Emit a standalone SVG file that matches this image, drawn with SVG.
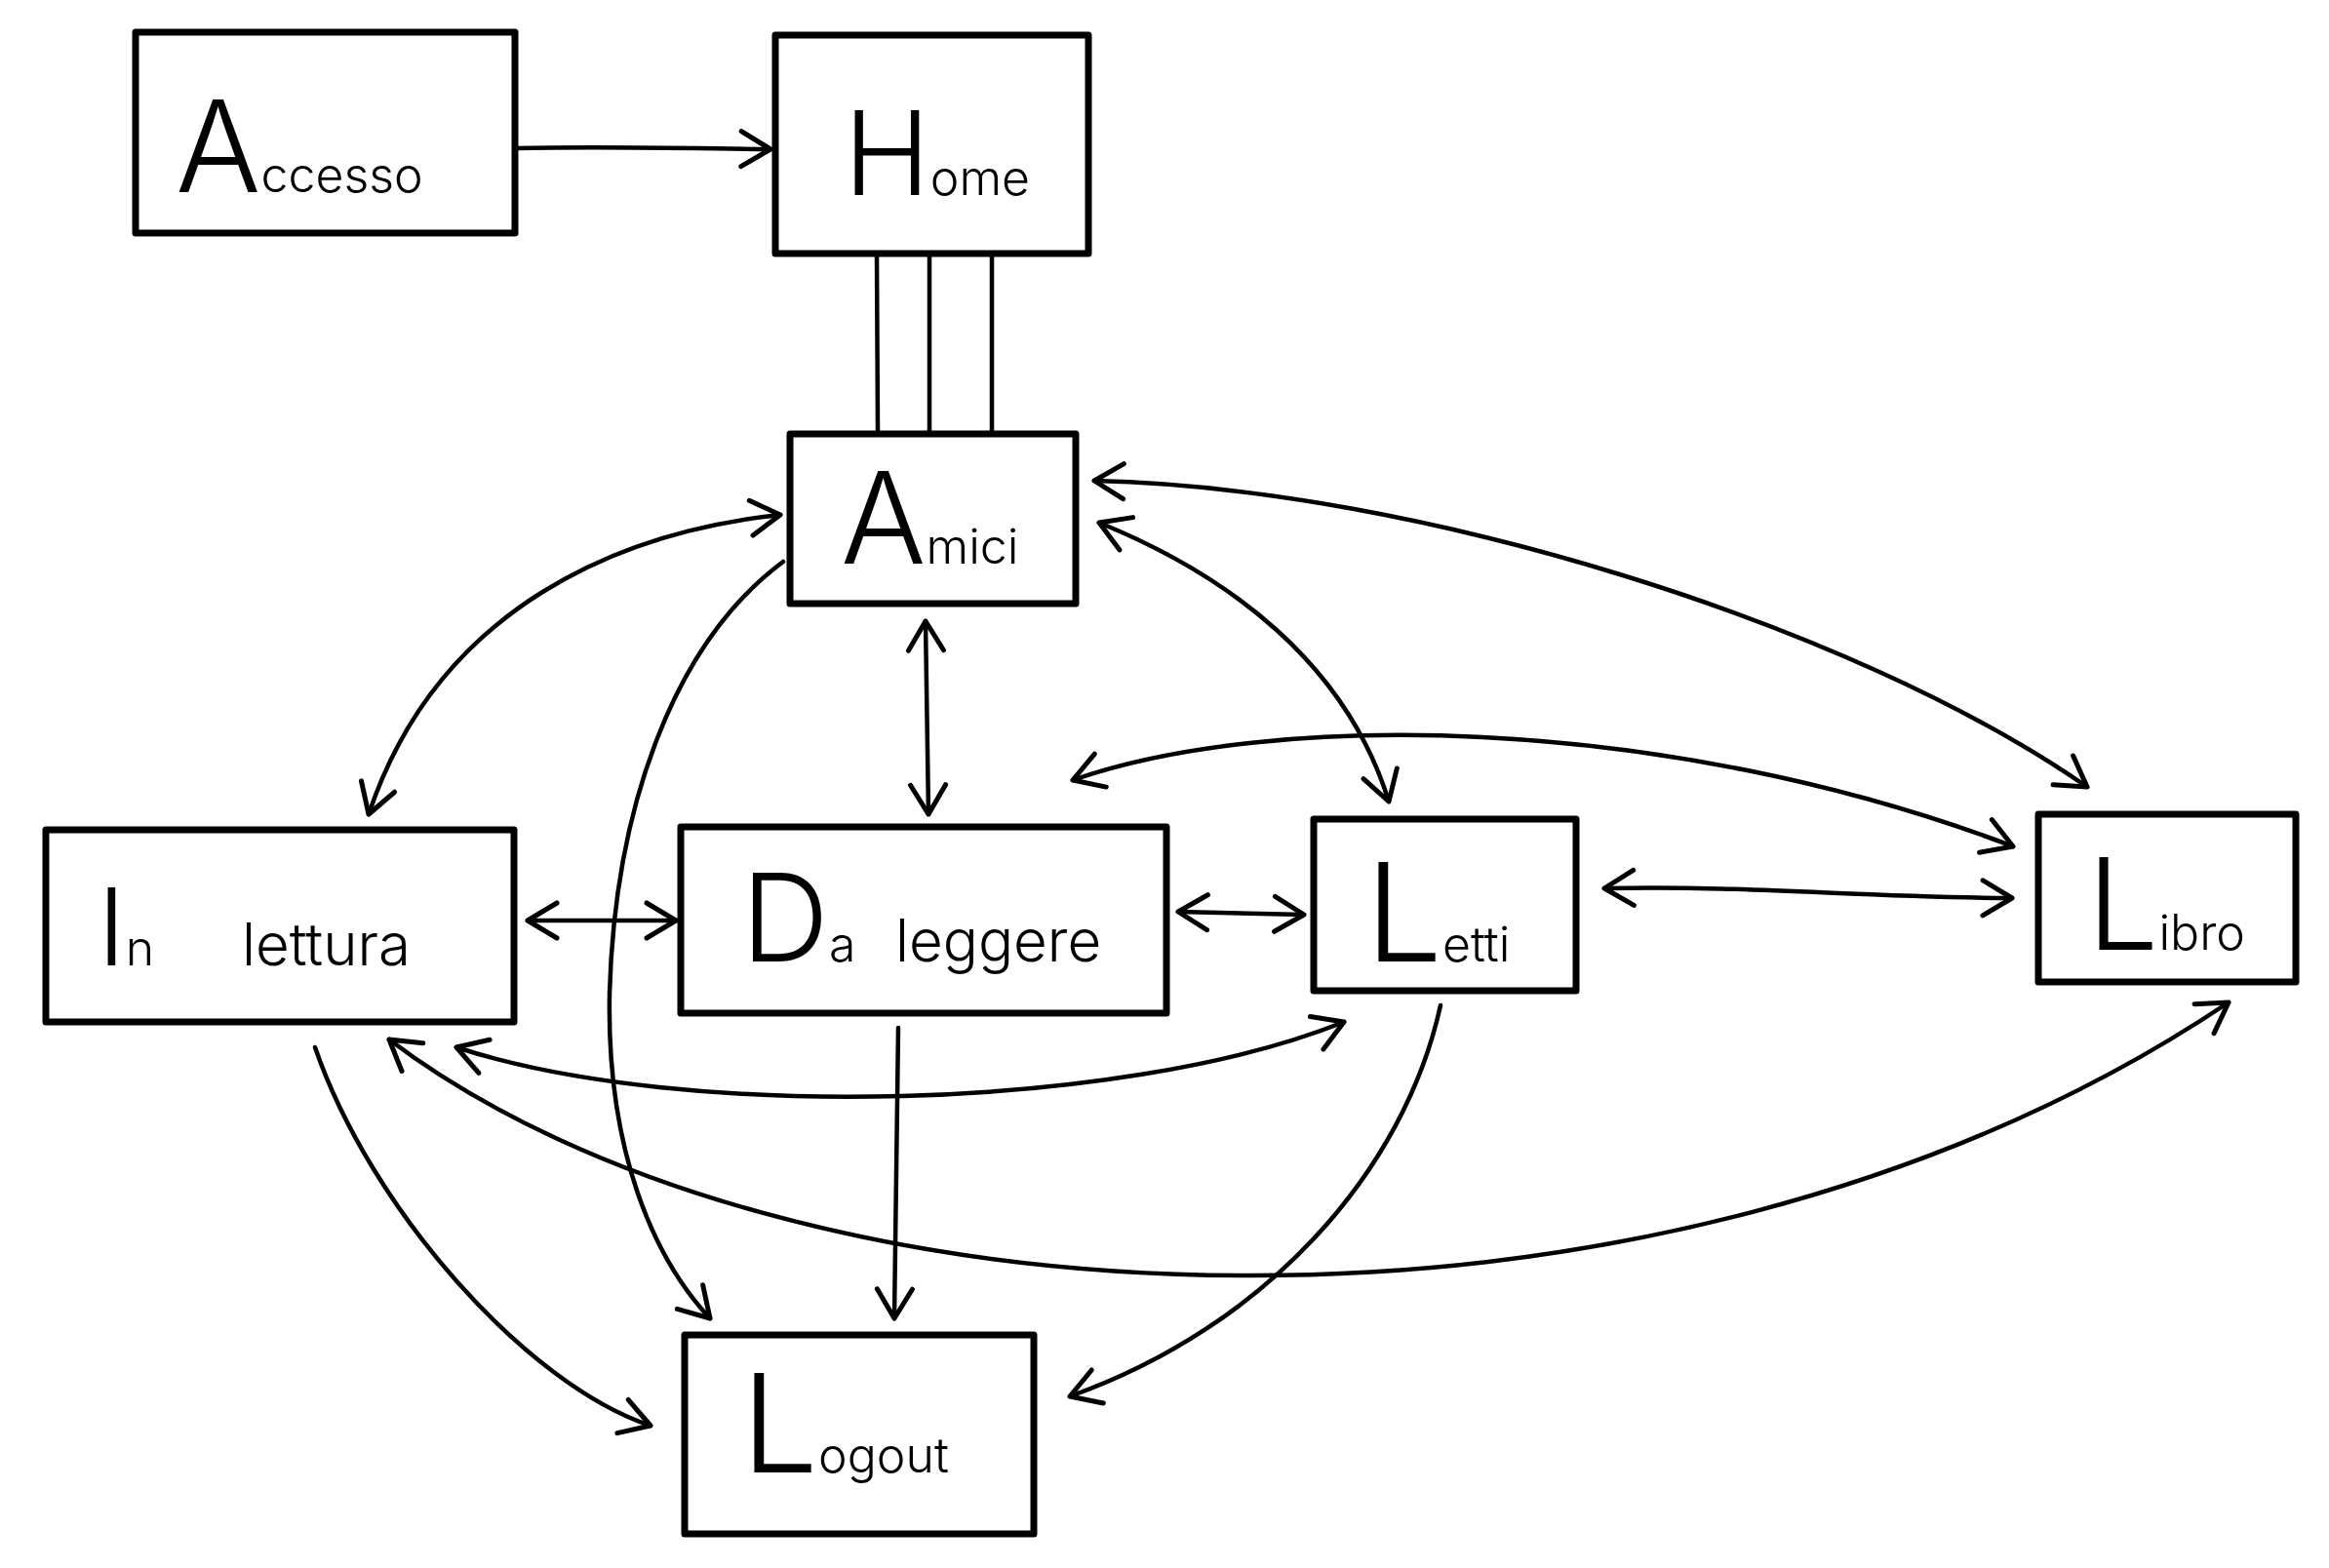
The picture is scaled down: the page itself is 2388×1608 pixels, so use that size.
<svg xmlns="http://www.w3.org/2000/svg" width="2388" height="1608" viewBox="0 0 2388 1608">
<style>
.box{fill:#fff;stroke:#000;stroke-width:7;stroke-linejoin:round}
.c{fill:none;stroke:#000;stroke-width:4.5;stroke-linecap:round}
.lbl{font-family:"Inter","Roboto","Liberation Sans",sans-serif;font-weight:300;fill:#000}
.big{font-size:130px}
.sm{font-size:50px}
.md{font-size:60px}
</style>
<defs>
<marker id="ah" markerUnits="userSpaceOnUse" viewBox="-36 -24 42 48" refX="0" refY="0" markerWidth="42" markerHeight="48" orient="auto-start-reverse">
<path d="M-30,-18 L0,0 L-30,18" fill="none" stroke="#000" stroke-width="5" stroke-linecap="round" stroke-linejoin="round"/>
</marker>
</defs>
<rect width="2388" height="1608" fill="#fff"/>
<g id="connectors">
<path class="c" d="M530,152 C620,150 700,152 790,153" marker-end="url(#ah)"/>
<path class="c" d="M899,262 L900,443"/>
<path class="c" d="M953,262 L953,443"/>
<path class="c" d="M1017,262 L1017,443"/>
<path class="c" d="M800,528 C640,545 450,620 378,835" marker-start="url(#ah)" marker-end="url(#ah)"/>
<path class="c" d="M803,576 C690,660 630,830 625,1020 C622,1180 670,1290 728,1352" marker-end="url(#ah)"/>
<path class="c" d="M949,637 L952,835" marker-start="url(#ah)" marker-end="url(#ah)"/>
<path class="c" d="M1127,536 C1260,590 1380,680 1424,822" marker-start="url(#ah)" marker-end="url(#ah)"/>
<path class="c" d="M1122,493 C1450,500 1900,640 2140,807" marker-start="url(#ah)" marker-end="url(#ah)"/>
<path class="c" d="M1100,800 C1300,730 1700,730 2064,868" marker-start="url(#ah)" marker-end="url(#ah)"/>
<path class="c" d="M541,944 L693,944" marker-start="url(#ah)" marker-end="url(#ah)"/>
<path class="c" d="M1208,935 L1337,938" marker-start="url(#ah)" marker-end="url(#ah)"/>
<path class="c" d="M1645,911 C1800,908 1900,920 2063,921" marker-start="url(#ah)" marker-end="url(#ah)"/>
<path class="c" d="M921,1054 L917,1352" marker-end="url(#ah)"/>
<path class="c" d="M1477,1031 C1440,1200 1300,1360 1097,1432" marker-end="url(#ah)"/>
<path class="c" d="M323,1074 C380,1240 540,1420 667,1462" marker-end="url(#ah)"/>
<path class="c" d="M468,1074 C700,1150 1150,1140 1378,1048" marker-start="url(#ah)" marker-end="url(#ah)"/>
<path class="c" d="M399,1066 C800,1370 1700,1420 2285,1028" marker-start="url(#ah)" marker-end="url(#ah)"/>
</g>
<g id="accesso">
<rect class="box" x="139" y="33" width="389" height="206"/>
<text class="lbl" x="180" y="197"><tspan class="big">A</tspan><tspan class="sm">ccesso</tspan></text>
</g>
<g id="home">
<rect class="box" x="795" y="36" width="321" height="224"/>
<text class="lbl" x="865" y="200"><tspan style="font-size:120px">H</tspan><tspan class="sm">ome</tspan></text>
</g>
<g id="amici">
<rect class="box" x="810" y="445" width="293" height="174"/>
<text class="lbl" x="862" y="578"><tspan class="big">A</tspan><tspan class="sm">mici</tspan></text>
</g>
<g id="in-lettura">
<rect class="box" x="47" y="851" width="480" height="197"/>
<text class="lbl" x="100" y="990"><tspan style="font-size:110px">I</tspan><tspan class="sm">n</tspan><tspan class="md" x="248">lettura</tspan></text>
</g>
<g id="da-leggere">
<rect class="box" x="698" y="848" width="498" height="191"/>
<text class="lbl" x="760" y="986"><tspan style="font-size:125px">D</tspan><tspan class="sm">a</tspan><tspan class="md" x="918">leggere</tspan></text>
</g>
<g id="letti">
<rect class="box" x="1347" y="840" width="269" height="176"/>
<text class="lbl" x="1400" y="986"><tspan style="font-size:140px">L</tspan><tspan class="sm">etti</tspan></text>
</g>
<g id="libro">
<rect class="box" x="2090" y="835" width="264" height="172"/>
<text class="lbl" x="2140" y="974"><tspan style="font-size:130px">L</tspan><tspan class="sm">ibro</tspan></text>
</g>
<g id="logout">
<rect class="box" x="702" y="1369" width="358" height="204"/>
<text class="lbl" x="760" y="1510"><tspan style="font-size:140px">L</tspan><tspan class="sm">ogout</tspan></text>
</g>
</svg>
